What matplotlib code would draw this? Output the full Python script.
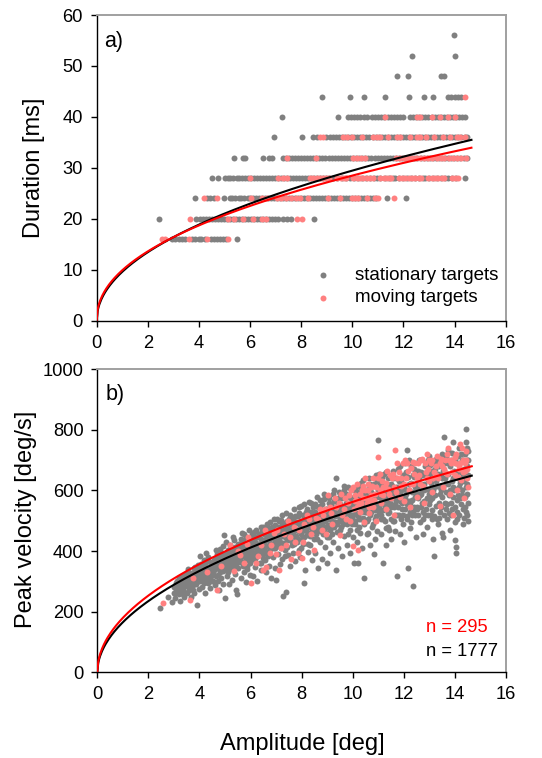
import numpy as np
import matplotlib
matplotlib.use("Agg")
import matplotlib.pyplot as plt

plt.rcParams['font.family'] = ['Liberation Sans', 'DejaVu Sans']

# ---------------- panel a: saccade duration (ms, 4 ms steps) vs amplitude (deg)
dur_levels = [16, 20, 24, 28, 32, 36, 40, 44, 48, 52, 56]

still_16 = [2.95, 3.07, 3.21, 3.34, 3.46, 3.74, 3.86, 3.99, 4.1, 4.23, 4.47, 4.59, 4.72, 4.83, 4.96, 5.07, 5.5]
still_20 = [2.44, 3.9, 4.04, 4.17, 4.29, 4.4, 4.53, 4.64, 4.76, 4.87, 4.99, 5.11, 5.22, 5.34, 5.46, 5.57, 5.69,
            5.81, 5.92, 6.04, 6.15, 6.27, 6.39, 6.5, 6.62, 6.74, 6.85, 6.97, 7.09, 7.3, 7.44, 7.6, 8.5]
still_24 = [3.85, 4.32, 4.45, 4.58, 4.98, 5.2, 5.31, 5.43, 5.55, 5.66, 5.78, 5.9, 6.01, 6.13, 6.25, 6.36, 6.48,
            6.6, 6.71, 6.83, 6.95, 7.06, 7.18, 7.3, 7.41, 7.53, 7.65, 7.76, 7.88, 8.0, 8.11, 8.23, 8.35, 8.46,
            8.58, 8.7, 8.81, 8.93, 9.05, 9.16, 9.28, 9.4, 9.51, 9.63, 9.75, 9.86, 9.98, 10.1, 10.21, 10.33,
            10.45, 10.56, 10.68, 10.8, 10.92, 11.34, 12.1]
still_28 = [4.5, 4.74, 5.0, 5.12, 5.23, 5.35, 5.47, 5.58, 5.7, 5.82, 5.93, 6.05, 6.17, 6.28, 6.4, 6.52, 6.63,
            6.75, 6.87, 6.98, 7.1, 7.22, 7.33, 7.45, 7.57, 7.68, 7.8, 7.92, 8.03, 8.15, 8.27, 8.38, 8.5, 8.62,
            8.74, 8.86, 8.98, 9.1, 9.26, 9.42, 9.58, 9.74, 9.9, 10.06, 10.22, 10.38, 10.54, 10.7, 10.86, 10.95,
            11.1, 11.26, 11.42, 11.58, 11.67, 11.82, 11.98, 12.14, 12.3, 12.46, 12.62, 12.78, 12.84, 13.0,
            13.16, 13.32, 13.48, 13.64, 13.75, 13.9, 14.06, 14.41]
still_32 = [5.38, 5.71, 5.79, 6.49, 6.75, 6.84, 7.27, 7.39, 7.51, 7.63, 7.75, 7.87, 7.99, 8.11, 8.23, 8.35,
            8.47, 8.59, 8.71, 8.83, 8.95, 9.07, 9.19, 9.31, 9.43, 9.55, 9.67, 9.79, 9.91, 10.03, 10.15, 10.27,
            10.39, 10.51, 10.63, 10.75, 10.87, 10.99, 11.11, 11.23, 11.35, 11.47, 11.59, 11.71, 11.83, 11.95,
            12.07, 12.19, 12.31, 12.43, 12.55, 12.67, 12.79, 12.91, 13.03, 13.15, 13.27, 13.39, 13.51, 13.63,
            13.75, 13.87, 13.99, 14.11, 14.23, 14.35, 14.47]
still_36 = [6.95, 8.05, 8.47, 8.6, 8.99, 9.11, 9.23, 9.35, 9.47, 9.59, 9.71, 9.83, 9.95, 10.07, 10.19, 10.31,
            10.43, 10.55, 10.67, 10.79, 10.91, 11.03, 11.15, 11.27, 11.39, 11.51, 11.63, 11.75, 11.87, 11.99,
            12.11, 12.23, 12.35, 12.47, 12.59, 12.71, 12.83, 12.95, 13.07, 13.19, 13.31, 13.43, 13.55, 13.67,
            13.79, 13.91, 14.03, 14.15, 14.27, 14.39, 14.47]
still_40 = [7.25, 9.43, 9.84, 9.96, 10.08, 10.2, 10.32, 10.44, 10.56, 10.76, 10.88, 11.0, 11.12, 11.24, 11.4,
            11.52, 11.64, 11.76, 11.88, 12.0, 12.26, 12.38, 12.5, 12.62, 12.74, 12.86, 12.98, 13.1, 13.22,
            13.34, 13.46, 13.58, 13.7, 13.82, 13.94, 14.06, 14.18, 14.3, 14.42]
still_44 = [8.81, 9.91, 10.46, 11.28, 12.23, 12.79, 13.17, 13.75, 13.88, 14.0, 14.13, 14.26]
still_48 = [11.73, 12.19, 13.47, 13.6]
still_52 = [12.35, 14.03]
still_56 = [13.99]

moving_16 = [2.54, 2.66, 3.6, 4.33, 5.15]
moving_20 = [3.65, 5.12, 5.38, 5.74, 6.1, 6.45, 6.62, 7.85, 8.05]
moving_24 = [4.2, 4.72, 6.02, 6.45, 6.65, 7.04, 7.2, 7.4, 7.6, 7.8, 7.95, 8.28, 9.06, 9.52, 9.97, 10.1, 10.23,
             10.56, 10.89, 11.02, 11.63]
moving_28 = [6.0, 7.1, 7.27, 7.45, 8.34, 8.47, 8.6, 8.73, 8.86, 8.99, 9.1, 9.42, 9.55, 9.68, 9.76, 10.04,
             10.17, 10.3, 10.43, 10.56, 10.69, 10.8, 11.1, 11.23, 11.36, 11.49, 11.52, 11.82, 11.95, 12.08,
             12.21, 12.34, 12.47, 12.6, 12.7, 12.98, 13.11, 13.24, 13.37, 13.5, 13.6, 13.9, 14.03, 14.15]
moving_32 = [7.46, 8.58, 10.04, 10.18, 10.33, 10.5, 11.72, 11.86, 12.02, 12.16, 12.33, 12.5, 12.64, 12.8,
             12.97, 13.12, 13.3, 13.45, 13.6, 13.78, 13.93, 14.1, 14.26, 14.44]
moving_36 = [8.74, 8.87, 9.65, 9.78, 10.0, 10.37, 10.82, 10.95, 11.08, 11.41, 11.74, 11.86, 12.26, 12.52,
             12.65, 12.9, 13.2, 13.56, 13.82, 14.08, 14.22, 14.41]
moving_40 = [11.28, 12.52, 12.66, 13.1, 13.43, 13.75, 14.02]
moving_44 = [14.39]
moving_48 = []
moving_52 = []
moving_56 = []

still_rows = [still_16, still_20, still_24, still_28, still_32, still_36, still_40, still_44, still_48,
              still_52, still_56]
moving_rows = [moving_16, moving_20, moving_24, moving_28, moving_32, moving_36, moving_40, moving_44,
               moving_48, moving_52, moving_56]

# ---------------- panel b: peak velocity (deg/s) vs amplitude (deg)
still_vel = [
    (2.45, 211), (2.78, 248), (2.92, 232), (3.0, 262),
    (3.05, 245), (3.1, 276), (3.12, 300), (3.18, 258), (3.22, 236), (3.27, 290), (3.3, 318), (3.35, 270),
    (3.38, 248), (3.42, 305), (3.46, 284), (3.48, 326), (3.5, 262),
    (3.53, 295), (3.56, 340), (3.6, 272), (3.62, 318), (3.66, 250), (3.7, 305), (3.73, 287), (3.77, 332),
    (3.8, 262), (3.84, 348), (3.88, 296), (3.9, 222), (3.93, 315), (3.97, 275), (4.0, 338),
    (4.03, 300), (4.06, 358), (4.1, 282), (4.13, 326), (4.17, 372), (4.2, 310), (4.23, 262), (4.26, 393),
    (4.29, 345), (4.33, 295), (4.36, 330), (4.4, 365), (4.43, 278), (4.46, 318), (4.49, 352),
    (4.52, 300), (4.55, 372), (4.58, 338), (4.62, 288), (4.65, 355), (4.68, 390), (4.71, 322), (4.75, 270),
    (4.78, 345), (4.81, 408), (4.84, 310), (4.88, 368), (4.91, 335), (4.94, 292), (4.96, 453), (4.98, 380),
    (5.0, 244),
    (5.03, 352), (5.06, 318), (5.09, 398), (5.12, 365), (5.15, 290), (5.18, 420), (5.21, 340), (5.24, 378),
    (5.27, 305), (5.3, 410), (5.33, 358), (5.36, 435), (5.39, 325), (5.42, 388), (5.45, 270), (5.46, 258),
    (5.48, 372),
    (5.52, 345), (5.55, 420), (5.58, 392), (5.61, 310), (5.64, 440), (5.67, 365), (5.7, 402), (5.73, 332),
    (5.76, 455), (5.79, 380), (5.82, 298), (5.85, 418), (5.88, 350), (5.91, 395), (5.94, 468), (5.97, 322),
    (6.0, 405),
    (6.03, 370), (6.06, 440), (6.09, 318), (6.12, 395), (6.15, 462), (6.18, 348), (6.21, 420), (6.24, 385),
    (6.27, 300), (6.3, 445), (6.33, 410), (6.36, 360), (6.39, 478), (6.42, 338), (6.45, 428), (6.48, 392),
    (6.52, 455), (6.55, 372), (6.58, 415), (6.61, 330), (6.64, 490), (6.67, 440), (6.7, 398), (6.73, 352),
    (6.76, 470), (6.79, 425), (6.82, 312), (6.85, 455), (6.88, 382), (6.91, 505), (6.94, 410), (6.97, 345),
    (7.0, 305),
    (7.03, 440), (7.06, 392), (7.09, 478), (7.12, 418), (7.15, 358), (7.18, 502), (7.21, 450), (7.24, 375),
    (7.28, 252), (7.31, 470), (7.34, 405), (7.37, 525), (7.4, 266), (7.42, 435), (7.45, 388), (7.48, 488),
    (7.52, 455), (7.55, 350), (7.58, 510), (7.61, 420), (7.64, 472), (7.67, 395), (7.7, 540), (7.73, 445),
    (7.76, 368), (7.79, 492), (7.82, 430), (7.85, 515), (7.88, 405), (7.91, 465), (7.94, 382), (7.97, 548),
    (8.0, 440),
    (8.03, 500), (8.06, 425), (8.09, 294), (8.12, 470), (8.15, 338), (8.18, 530), (8.21, 452), (8.24, 398),
    (8.27, 488), (8.3, 562), (8.33, 420), (8.36, 505), (8.39, 372), (8.42, 470), (8.45, 545), (8.48, 440),
    (8.52, 395), (8.55, 520), (8.58, 465), (8.61, 580), (8.64, 345), (8.67, 490), (8.7, 430), (8.73, 548),
    (8.76, 470), (8.79, 375), (8.82, 512), (8.85, 455), (8.88, 572), (8.91, 415), (8.94, 530), (8.97, 480),
    (9.0, 360),
    (9.03, 505), (9.06, 445), (9.09, 560), (9.12, 395), (9.15, 520), (9.18, 478), (9.21, 590), (9.24, 430),
    (9.27, 540), (9.3, 495), (9.33, 338), (9.35, 640), (9.38, 462), (9.41, 555), (9.44, 410), (9.47, 515),
    (9.5, 580),
    (9.52, 470), (9.55, 540), (9.58, 385), (9.61, 505), (9.64, 600), (9.67, 450), (9.7, 525), (9.73, 560),
    (9.76, 420), (9.79, 490), (9.82, 612), (9.85, 535), (9.88, 468), (9.91, 395), (9.94, 575), (9.97, 510),
    (10.0, 445),
    (10.03, 555), (10.05, 360), (10.08, 490), (10.11, 610), (10.14, 525), (10.17, 430), (10.2, 362),
    (10.23, 585), (10.26, 505), (10.29, 460), (10.32, 624), (10.35, 545), (10.38, 410), (10.41, 570),
    (10.44, 488), (10.46, 312), (10.49, 530),
    (10.52, 600), (10.55, 455), (10.58, 560), (10.61, 505), (10.64, 640), (10.67, 420), (10.7, 578),
    (10.73, 530), (10.76, 480), (10.79, 615), (10.82, 392), (10.85, 548), (10.88, 505), (10.91, 650),
    (10.94, 465), (10.97, 590), (10.98, 767),
    (11.03, 530), (11.06, 610), (11.09, 455), (11.12, 575), (11.15, 645), (11.17, 362), (11.2, 505),
    (11.23, 590), (11.26, 548), (11.29, 420), (11.32, 660), (11.35, 565), (11.38, 480), (11.41, 618),
    (11.44, 530), (11.47, 595), (11.5, 440),
    (11.53, 585), (11.56, 500), (11.59, 640), (11.62, 545), (11.65, 465), (11.68, 610), (11.71, 570),
    (11.75, 318), (11.78, 670), (11.81, 520), (11.84, 595), (11.87, 455), (11.9, 630), (11.93, 560),
    (11.96, 490), (11.99, 605), (12.01, 431),
    (12.04, 575), (12.07, 660), (12.11, 734), (12.14, 515), (12.18, 345), (12.2, 620), (12.23, 560),
    (12.26, 475), (12.29, 680), (12.32, 595), (12.35, 530), (12.38, 286), (12.41, 645), (12.44, 580),
    (12.47, 445), (12.5, 610),
    (12.53, 540), (12.56, 665), (12.59, 590), (12.62, 495), (12.65, 700), (12.68, 620), (12.71, 560),
    (12.74, 455), (12.77, 650), (12.8, 600), (12.83, 520), (12.86, 690), (12.89, 575), (12.92, 480),
    (12.95, 635), (12.98, 555), (13.0, 715),
    (13.03, 600), (13.06, 520), (13.09, 665), (13.12, 575), (13.15, 440), (13.19, 385), (13.22, 640),
    (13.25, 705), (13.28, 550), (13.31, 615), (13.34, 490), (13.37, 680), (13.4, 590), (13.43, 530),
    (13.46, 650), (13.48, 720), (13.5, 460),
    (13.52, 610), (13.55, 448), (13.58, 775), (13.6, 560), (13.63, 690), (13.66, 625), (13.69, 505),
    (13.72, 735), (13.75, 655), (13.78, 585), (13.81, 470), (13.84, 700), (13.87, 630), (13.9, 540),
    (13.93, 760), (13.96, 600), (13.99, 495),
    (14.02, 437), (14.03, 393), (14.04, 412), (14.06, 650), (14.09, 570), (14.12, 715), (14.15, 610),
    (14.18, 520), (14.21, 745), (14.24, 660), (14.27, 585), (14.3, 490), (14.33, 700), (14.36, 630),
    (14.39, 545), (14.42, 760), (14.44, 802), (14.46, 620), (14.48, 680), (14.5, 560), (14.5, 730),
    # densest part of the cloud, close to the fitted curve
    (3.02, 282), (3.08, 295), (3.15, 268), (3.2, 312), (3.25, 275), (3.31, 298), (3.36, 285), (3.41, 265),
    (3.44, 292), (3.49, 310),
    (3.51, 315), (3.55, 285), (3.59, 302), (3.64, 328), (3.68, 280), (3.72, 318), (3.75, 300), (3.79, 345),
    (3.83, 310), (3.86, 325), (3.91, 338), (3.95, 302), (3.99, 320),
    (4.01, 322), (4.05, 340), (4.08, 312), (4.12, 350), (4.15, 335), (4.19, 295), (4.22, 360), (4.25, 322),
    (4.28, 308), (4.31, 370), (4.35, 345), (4.38, 318), (4.42, 338), (4.45, 362), (4.48, 330),
    (4.51, 352), (4.54, 325), (4.57, 365), (4.6, 340), (4.63, 378), (4.66, 318), (4.7, 360), (4.73, 345),
    (4.76, 385), (4.8, 330), (4.83, 372), (4.86, 350), (4.9, 395), (4.93, 362), (4.97, 340),
    (5.01, 385), (5.04, 372), (5.08, 345), (5.11, 402), (5.14, 380), (5.17, 355), (5.2, 392), (5.23, 415),
    (5.26, 368), (5.29, 385), (5.32, 340), (5.35, 400), (5.38, 375), (5.41, 412), (5.44, 358), (5.47, 395),
    (5.51, 405), (5.54, 378), (5.57, 425), (5.6, 365), (5.63, 398), (5.66, 412), (5.69, 352), (5.72, 432),
    (5.75, 390), (5.78, 408), (5.81, 372), (5.84, 445), (5.87, 398), (5.9, 420), (5.93, 385), (5.96, 430),
    (5.99, 362),
    (6.01, 425), (6.04, 398), (6.07, 382), (6.1, 452), (6.13, 412), (6.16, 430), (6.19, 375), (6.22, 445),
    (6.25, 405), (6.28, 425), (6.31, 390), (6.34, 458), (6.37, 418), (6.4, 440), (6.43, 400), (6.46, 465),
    (6.49, 378),
    (6.51, 430), (6.54, 408), (6.57, 462), (6.6, 395), (6.63, 445), (6.66, 418), (6.69, 475), (6.72, 432),
    (6.75, 402), (6.78, 455), (6.81, 425), (6.84, 480), (6.87, 442), (6.9, 410), (6.93, 465), (6.96, 435),
    (6.99, 470),
    (7.01, 465), (7.04, 425), (7.07, 455), (7.1, 498), (7.13, 440), (7.16, 470), (7.19, 410), (7.22, 485),
    (7.25, 455), (7.29, 428), (7.32, 492), (7.35, 445), (7.38, 468), (7.41, 415), (7.44, 480), (7.47, 455),
    (7.5, 505),
    (7.51, 470), (7.54, 438), (7.57, 490), (7.6, 455), (7.63, 505), (7.66, 460), (7.69, 425), (7.72, 480),
    (7.75, 515), (7.78, 450), (7.81, 495), (7.84, 468), (7.87, 440), (7.9, 525), (7.93, 485), (7.96, 455),
    (7.99, 500),
    (8.01, 465), (8.04, 520), (8.07, 480), (8.1, 445), (8.13, 505), (8.16, 470), (8.19, 495), (8.22, 540),
    (8.25, 460), (8.28, 512), (8.31, 478), (8.34, 450), (8.37, 530), (8.4, 495), (8.43, 515), (8.46, 470),
    (8.49, 505),
    (8.51, 490), (8.54, 530), (8.57, 455), (8.6, 505), (8.63, 475), (8.66, 545), (8.69, 510), (8.72, 465),
    (8.75, 525), (8.78, 495), (8.81, 555), (8.84, 480), (8.87, 520), (8.9, 500), (8.93, 462), (8.96, 540),
    (8.99, 515),
    (9.01, 540), (9.04, 485), (9.07, 525), (9.1, 505), (9.13, 470), (9.16, 555), (9.19, 500), (9.22, 530),
    (9.25, 480), (9.28, 565), (9.31, 515), (9.34, 545), (9.37, 490), (9.4, 525), (9.43, 575), (9.46, 500),
    (9.49, 540),
    (9.51, 555), (9.54, 505), (9.57, 530), (9.6, 575), (9.63, 490), (9.66, 545), (9.69, 510), (9.72, 590),
    (9.75, 525), (9.78, 560), (9.81, 495), (9.84, 545), (9.87, 580), (9.9, 520), (9.93, 550), (9.96, 490),
    (9.99, 570),
    (10.01, 520), (10.04, 580), (10.07, 545), (10.1, 500), (10.13, 565), (10.16, 595), (10.19, 515),
    (10.22, 550), (10.25, 480), (10.28, 575), (10.31, 530), (10.34, 600), (10.37, 560), (10.4, 510),
    (10.43, 590), (10.45, 545), (10.48, 575),
    (10.51, 530), (10.54, 585), (10.57, 500), (10.6, 545), (10.63, 605), (10.66, 560), (10.69, 520),
    (10.72, 595), (10.75, 550), (10.78, 490), (10.81, 575), (10.84, 620), (10.87, 535), (10.9, 580),
    (10.93, 515), (10.96, 555), (10.99, 600),
    (11.01, 580), (11.04, 545), (11.07, 625), (11.1, 505), (11.13, 560), (11.16, 600), (11.19, 535),
    (11.22, 625), (11.25, 500), (11.28, 580), (11.31, 550), (11.34, 610), (11.37, 525), (11.4, 590),
    (11.43, 470), (11.46, 560), (11.49, 620),
    (11.51, 545), (11.54, 615), (11.57, 575), (11.6, 500), (11.63, 600), (11.66, 555), (11.69, 640),
    (11.72, 520), (11.76, 585), (11.79, 545), (11.82, 630), (11.85, 565), (11.88, 505), (11.91, 600),
    (11.94, 540), (11.97, 650), (12.0, 575),
    (12.02, 610), (12.05, 540), (12.08, 590), (12.12, 505), (12.15, 645), (12.19, 565), (12.21, 600),
    (12.24, 530), (12.27, 625), (12.3, 495), (12.33, 570), (12.36, 650), (12.39, 545), (12.42, 610),
    (12.45, 520), (12.48, 590), (12.49, 665),
    (12.51, 625), (12.54, 575), (12.57, 520), (12.6, 640), (12.63, 585), (12.66, 545), (12.69, 660),
    (12.72, 600), (12.75, 505), (12.78, 620), (12.81, 565), (12.84, 680), (12.87, 540), (12.9, 605),
    (12.93, 655), (12.96, 520), (12.99, 590),
    (13.01, 650), (13.04, 570), (13.07, 625), (13.1, 535), (13.13, 690), (13.16, 600), (13.18, 515),
    (13.21, 670), (13.24, 585), (13.27, 630), (13.3, 505), (13.33, 655), (13.36, 560), (13.39, 700),
    (13.42, 610), (13.45, 545), (13.49, 640),
    (13.51, 580), (13.54, 665), (13.57, 520), (13.61, 640), (13.64, 595), (13.67, 710), (13.7, 555),
    (13.73, 620), (13.76, 525), (13.79, 680), (13.82, 600), (13.85, 560), (13.88, 725), (13.91, 640),
    (13.94, 580), (13.97, 665), (14.0, 545),
    (14.01, 605), (14.05, 690), (14.08, 530), (14.11, 640), (14.14, 585), (14.17, 740), (14.2, 625),
    (14.23, 555), (14.26, 700), (14.29, 600), (14.32, 650), (14.35, 510), (14.38, 720), (14.41, 580),
    (14.43, 645), (14.45, 530), (14.47, 700), (14.49, 590), (14.5, 500), (14.5, 650),
    # outer part of the cloud
    (3.04, 262), (3.14, 288), (3.24, 305), (3.34, 258), (3.44, 318), (3.54, 330), (3.64, 295), (3.74, 270),
    (3.85, 290), (3.95, 355),
    (4.04, 385), (4.14, 300), (4.24, 345), (4.34, 380), (4.44, 300), (4.54, 340), (4.64, 405), (4.74, 300),
    (4.84, 390), (4.94, 418),
    (5.05, 430), (5.13, 332), (5.22, 395), (5.31, 448), (5.4, 348), (5.5, 425), (5.59, 378), (5.68, 460),
    (5.77, 418), (5.86, 340), (5.95, 440),
    (6.05, 455), (6.14, 380), (6.23, 470), (6.32, 425), (6.41, 362), (6.5, 480), (6.59, 440), (6.68, 385),
    (6.77, 495), (6.86, 420), (6.95, 485),
    (7.05, 505), (7.14, 430), (7.23, 520), (7.33, 385), (7.43, 498), (7.53, 520), (7.62, 430), (7.71, 500),
    (7.8, 470), (7.9, 545), (7.98, 410),
    (8.08, 555), (8.17, 485), (8.26, 425), (8.35, 560), (8.44, 505), (8.53, 555), (8.62, 440), (8.71, 570),
    (8.8, 490), (8.89, 590), (8.98, 445),
    (9.08, 575), (9.17, 455), (9.26, 600), (9.36, 520), (9.45, 595), (9.55, 480), (9.65, 615), (9.74, 540),
    (9.83, 455), (9.92, 600), (9.98, 540),
    (10.06, 600), (10.15, 470), (10.24, 615), (10.33, 505), (10.42, 635), (10.5, 565), (10.59, 460),
    (10.68, 620), (10.77, 565), (10.86, 440), (10.95, 630),
    (11.02, 655), (11.11, 520), (11.21, 655), (11.3, 475), (11.39, 640), (11.48, 505), (11.58, 665),
    (11.67, 520), (11.77, 610), (11.86, 680), (11.95, 520),
    (12.03, 690), (12.13, 555), (12.22, 700), (12.31, 520), (12.4, 670), (12.5, 545), (12.58, 700),
    (12.67, 590), (12.76, 530), (12.85, 650), (12.94, 700),
    (13.02, 685), (13.11, 505), (13.2, 610), (13.29, 690), (13.38, 510), (13.47, 600), (13.56, 700),
    (13.65, 540), (13.74, 690), (13.83, 520), (13.92, 610),
    (14.01, 700), (14.07, 505), (14.13, 665), (14.19, 575), (14.25, 720), (14.31, 540), (14.37, 670),
    (14.43, 610), (14.47, 740), (14.49, 520), (14.5, 700),
]

moving_vel = [
    (2.58, 230), (3.63, 239), (3.75, 310), (4.3, 330), (4.67, 272), (4.85, 352), (5.2, 420), (5.35, 335),
    (5.6, 388), (5.85, 425), (6.0, 294), (6.2, 362), (6.5, 338), (6.55, 470), (6.62, 347), (6.8, 420),
    (7.0, 392), (7.13, 338), (7.3, 455), (7.45, 498), (7.6, 375), (7.75, 430), (7.9, 470), (8.0, 376),
    (8.2, 520), (8.35, 455), (8.5, 405), (8.65, 505), (8.8, 470), (8.9, 540), (9.05, 585), (9.2, 490),
    (9.35, 545), (9.5, 453), (9.6, 520), (9.7, 575), (9.8, 560), (9.9, 500), (9.95, 600), (10.0, 418),
    (10.05, 540), (10.1, 585), (10.15, 620), (10.22, 404), (10.25, 555), (10.3, 530), (10.35, 600),
    (10.4, 575), (10.45, 495), (10.5, 640), (10.55, 560), (10.6, 600), (10.65, 525), (10.7, 585),
    (10.75, 615), (10.8, 545), (10.85, 570), (10.9, 500), (10.98, 712), (11.05, 600), (11.1, 560),
    (11.15, 630), (11.2, 585), (11.3, 540), (11.35, 665), (11.4, 605), (11.5, 575), (11.55, 640),
    (11.6, 520), (11.66, 734), (11.7, 595), (11.8, 660), (11.9, 615), (12.0, 565), (12.05, 700),
    (12.1, 640), (12.2, 600), (12.25, 545), (12.3, 675), (12.35, 620), (12.45, 690), (12.5, 580),
    (12.6, 650), (12.7, 705), (12.75, 615), (12.8, 560), (12.9, 720), (12.95, 670), (13.0, 630),
    (13.05, 690), (13.1, 595), (13.2, 660), (13.3, 715), (13.35, 640), (13.4, 550), (13.5, 680),
    (13.55, 610), (13.6, 700), (13.7, 655), (13.75, 740), (13.8, 590), (13.85, 690), (13.94, 519),
    (14.0, 650), (14.05, 720), (14.1, 600), (14.15, 680), (14.2, 755), (14.25, 635), (14.3, 700),
    (14.35, 575), (14.4, 665), (14.45, 730), (14.5, 610),
    (5.5, 400), (5.75, 360), (6.3, 385), (6.9, 460), (7.2, 410), (7.55, 445), (7.85, 395), (8.1, 490),
    (8.45, 480), (8.7, 540), (8.95, 455), (9.15, 525), (9.45, 560), (9.75, 505), (10.08, 565),
    (10.18, 545), (10.28, 590), (10.42, 615), (10.52, 575), (10.62, 545), (10.72, 610), (10.88, 590),
    (11.0, 640), (11.12, 590), (11.25, 610), (11.45, 650), (11.62, 610), (11.75, 640), (11.85, 580),
    (11.95, 690), (12.15, 665), (12.28, 620), (12.4, 655), (12.55, 690), (12.65, 620), (12.85, 660),
    (13.0, 700), (13.15, 640), (13.25, 680), (13.45, 705), (13.62, 660), (13.68, 720), (13.9, 700),
    (14.0, 690), (14.12, 645), (14.22, 690), (14.32, 660), (14.42, 700), (14.48, 640),
    (5.9, 445), (6.4, 420), (6.75, 395), (7.05, 470), (7.4, 420), (7.7, 480), (8.05, 430), (8.3, 505),
    (8.55, 510), (8.85, 520), (9.1, 545), (9.3, 575), (9.55, 590), (9.65, 540), (9.85, 585), (10.02, 610),
    (10.12, 570), (10.32, 560), (10.48, 600), (10.58, 620), (10.68, 570), (10.78, 640), (10.92, 610),
    (11.08, 655), (11.18, 610), (11.32, 625), (11.42, 590), (11.58, 655), (11.72, 690), (11.88, 640),
    (12.02, 620), (12.12, 690), (12.38, 695), (12.52, 640), (12.62, 700), (12.82, 690), (12.92, 640),
    (13.12, 700), (13.28, 650), (13.42, 690), (13.58, 670), (13.78, 700), (13.88, 660), (14.02, 710),
    (14.18, 670), (14.28, 740), (14.38, 690), (14.46, 670),
]

# power-law main-sequence fits  y = k * A ** e
dur_fit_still = (9.6, 0.487)
dur_fit_moving = (9.9, 0.459)
vel_fit_still = (165.0, 0.51)
vel_fit_moving = (179.5, 0.496)
fit_amp_max = 14.7

n_moving = 295
n_still = 1777

GRAY = '#808080'
PINK = '#ff8080'
RED = '#ff0000'
MS = 4.3


def rows_to_xy(rows):
    xs, ys = [], []
    for level, amps in zip(dur_levels, rows):
        xs.extend(amps)
        ys.extend([level] * len(amps))
    return np.array(xs, float), np.array(ys, float)


def style(ax, ymax, ystep):
    ax.set_xlim(0, 16)
    ax.set_ylim(0, ymax)
    ax.set_xticks(np.arange(0, 17, 2))
    ax.set_yticks(np.arange(0, ymax + 1, ystep))
    for s in ('left', 'bottom'):
        ax.spines[s].set_color('black')
        ax.spines[s].set_linewidth(1.0)
    for s in ('top', 'right'):
        ax.spines[s].set_color('#a0a0a0')
        ax.spines[s].set_linewidth(1.4)
    ax.tick_params(direction='out', length=4, width=1, labelsize=13.2, pad=6,
                   top=False, right=False, colors='black')


def fit_line(ax, params, color):
    k, e = params
    a = np.linspace(0, fit_amp_max, 400)
    ax.plot(a, k * a ** e, color=color, lw=1.5, zorder=4, solid_capstyle='butt')


fig = plt.figure(figsize=(5.42, 7.58), dpi=100)
ax_a = fig.add_axes([0.1784, 0.5769, 0.7546, 0.4033])
ax_b = fig.add_axes([0.1795, 0.1131, 0.7540, 0.3997])

# panel a
sx, sy = rows_to_xy(still_rows)
mx, my = rows_to_xy(moving_rows)
ax_a.plot(sx, sy, 'o', color=GRAY, ms=MS, mew=0, zorder=2)
ax_a.plot(mx, my, 'o', color=PINK, ms=MS, mew=0, zorder=3)
fit_line(ax_a, dur_fit_still, 'black')
fit_line(ax_a, dur_fit_moving, RED)
style(ax_a, 60, 10)
ax_a.text(0.018, 0.913, 'a)', transform=ax_a.transAxes, fontsize=15.5, va='center', ha='left')

ax_a.plot([0.553], [0.1495], 'o', color=GRAY, ms=MS, mew=0, transform=ax_a.transAxes)
ax_a.plot([0.553], [0.0743], 'o', color=PINK, ms=MS, mew=0, transform=ax_a.transAxes)
ax_a.text(0.632, 0.1495, 'stationary targets', transform=ax_a.transAxes, fontsize=13.5, va='center')
ax_a.text(0.632, 0.0743, 'moving targets', transform=ax_a.transAxes, fontsize=13.5, va='center')

# panel b
sv = np.array(still_vel, float)
mv = np.array(moving_vel, float)
ax_b.plot(sv[:, 0], sv[:, 1], 'o', color=GRAY, ms=MS, mew=0, zorder=2)
ax_b.plot(mv[:, 0], mv[:, 1], 'o', color=PINK, ms=MS, mew=0, zorder=3)
fit_line(ax_b, vel_fit_still, 'black')
fit_line(ax_b, vel_fit_moving, RED)
style(ax_b, 1000, 200)
ax_b.text(0.021, 0.917, 'b)', transform=ax_b.transAxes, fontsize=15.5, va='center', ha='left')
ax_b.text(0.804, 0.1485, f'n = {n_moving}', transform=ax_b.transAxes, fontsize=13.2, va='center',
          color=RED)
ax_b.text(0.804, 0.068, f'n = {n_still}', transform=ax_b.transAxes, fontsize=13.2, va='center',
          color='black')

# axis titles
fig.text(0.0738, 0.7786, 'Duration [ms]', rotation=90, rotation_mode='anchor',
         ha='center', va='baseline', fontsize=17)
fig.text(0.0585, 0.3144, 'Peak velocity [deg/s]', rotation=90, rotation_mode='anchor',
         ha='center', va='baseline', fontsize=17)
fig.text(0.557, 0.0106, 'Amplitude [deg]', ha='center', va='baseline', fontsize=17)

fig.savefig('out.png', dpi=100)
